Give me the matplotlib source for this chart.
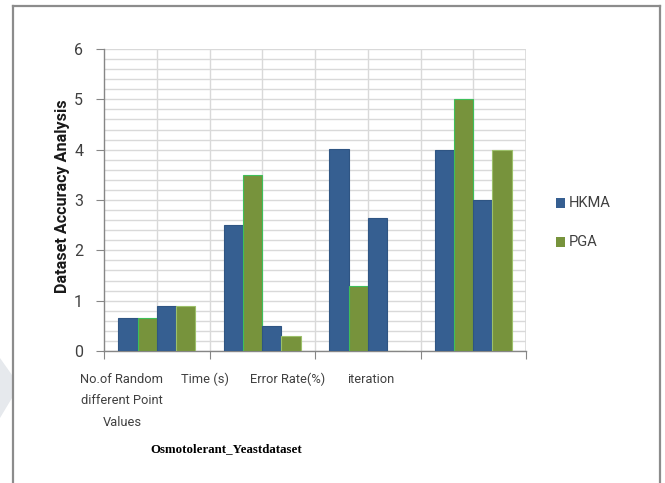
import matplotlib
matplotlib.use("Agg")
import matplotlib.pyplot as plt
from matplotlib.patches import Polygon, Rectangle
import numpy as np

categories = ["No.of Random\ndifferent Point\nValues", "Time (s)", "Error Rate(%)", "iteration"]
hkma_1 = [0.65, 2.5, 4.02, 4.0]
pga_1 = [0.65, 3.5, 1.3, 5.0]
hkma_2 = [0.9, 0.5, 2.65, 3.0]
pga_2 = [0.9, 0.3, 0.0, 4.0]
series_names = ["HKMA", "PGA"]
y_ticks = [0, 1, 2, 3, 4, 5, 6]

BLUE = "#365F91"
GREEN = "#77933C"
GRID = "#d9d9d9"
AXIS = "#868686"
TEXT = "#404040"
FONT = ["Roboto", "DejaVu Sans"]

W, H = 665, 483
fig = plt.figure(figsize=(W / 100, H / 100), dpi=100)
fig.patch.set_facecolor("white")

# chart-area frame (open at the bottom)
frame_kw = dict(color="#8c8c8c", lw=1.6, transform=fig.transFigure)
fig.add_artist(plt.Line2D([13 / W, 13 / W], [0, 1 - 6 / H], **frame_kw))
fig.add_artist(plt.Line2D([13 / W, 660 / W], [1 - 6 / H, 1 - 6 / H], **frame_kw))
fig.add_artist(plt.Line2D([660 / W, 660 / W], [0, 1 - 6 / H], **frame_kw))

# faint grey band on the left edge
band = Polygon([[0, 1 - 358 / H], [12 / W, 1 - 375 / H], [12 / W, 1 - 398 / H],
                [0, 1 - 418 / H]], closed=True, transform=fig.transFigure,
               facecolor="#e6e9ed", edgecolor="none", zorder=0)
fig.add_artist(band)

left, right, top, bottom = 104, 526, 49, 351
ax = fig.add_axes([left / W, 1 - bottom / H, (right - left) / W, (bottom - top) / H])

n = len(categories)
ax.set_xlim(0, n)
ax.set_ylim(0, 6)

# grid
for v in np.arange(0, 6.01, 0.2):
    ax.axhline(v, color=GRID, lw=1.0, zorder=0)
for v in np.arange(0.5, n, 0.5):
    ax.axvline(v, color=GRID, lw=1.0, zorder=0)
ax.axvline(n, color=GRID, lw=1.2, zorder=0)

w = 1 / 5.5
x = np.arange(n) + 0.5
data = [(hkma_1, BLUE, "#2f5583"), (pga_1, GREEN, "#3fbf5a"),
        (hkma_2, BLUE, "#2f5583"), (pga_2, GREEN, "#9cc06a")]
for k, (vals, col, edge) in enumerate(data):
    ax.bar(x + (k - 1.5) * w, vals, width=w, color=col, edgecolor=edge,
           linewidth=0.8, zorder=3)

for s in ["top", "right"]:
    ax.spines[s].set_visible(False)
for s in ["left", "bottom"]:
    ax.spines[s].set_color(AXIS)
    ax.spines[s].set_linewidth(1.0)

ax.set_yticks(y_ticks)
ax.set_yticklabels([str(t) for t in y_ticks], fontsize=11.5, color=TEXT, family=FONT)
ax.tick_params(axis="y", length=6, color=AXIS, pad=9)
ax.set_xticks(np.arange(0, n + 1))
ax.set_xticklabels([])
ax.tick_params(axis="x", length=6, color=AXIS, direction="out")

# category labels
label_px = [122, 205, 288, 371]
for lab, px in zip(categories, label_px):
    fig.text(px / W, 1 - 373 / H, lab, ha="center", va="top", fontsize=9.3,
             color=TEXT, linespacing=1.85, family=FONT)

fig.text(62 / W, 1 - 196 / H, "Dataset Accuracy Analysis", rotation=90,
         ha="center", va="center", fontsize=11.6, fontweight="bold",
         color="#1a1a1a", family=FONT)
fig.text(226 / W, 1 - 449 / H, "Osmotolerant_Yeastdataset", ha="center",
         va="center", fontsize=9.3, fontweight="bold", color="black",
         family=["Liberation Serif", "DejaVu Serif"])

# legend
for name, col, ypx in zip(series_names, [BLUE, GREEN], [203, 242]):
    fig.add_artist(Rectangle((556 / W, 1 - (ypx + 4.5) / H), 9 / W, 9 / H,
                             transform=fig.transFigure, facecolor=col,
                             edgecolor="none"))
    fig.text(569 / W, 1 - ypx / H, name, ha="left", va="center", fontsize=10.5,
             color=TEXT, family=FONT)

fig.savefig("out.png", dpi=100)
